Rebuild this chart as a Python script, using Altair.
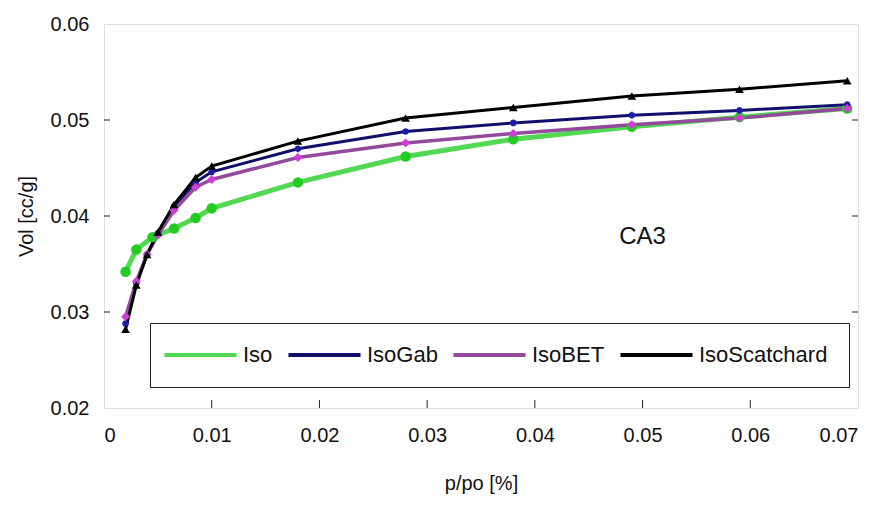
import altair as alt
import pandas as pd

# ---- data ----
x_fit = [0.002, 0.003, 0.004, 0.005, 0.0065, 0.0085, 0.010, 0.018, 0.028, 0.038, 0.049, 0.059, 0.069]
iso_gab = [0.0288, 0.0330, 0.0360, 0.0382, 0.0410, 0.0435, 0.0446, 0.0470, 0.0488, 0.0497, 0.0505, 0.0510, 0.0516]
iso_bet = [0.0295, 0.0332, 0.0360, 0.0380, 0.0406, 0.0430, 0.0438, 0.0461, 0.0476, 0.0486, 0.0495, 0.0502, 0.0512]
iso_scat = [0.0282, 0.0328, 0.0360, 0.0383, 0.0412, 0.0440, 0.0452, 0.0478, 0.0502, 0.0513, 0.0525, 0.0532, 0.0541]

x_iso = [0.002, 0.003, 0.0045, 0.0065, 0.0085, 0.010, 0.018, 0.028, 0.038, 0.049, 0.059, 0.069]
iso = [0.0342, 0.0365, 0.0378, 0.0387, 0.0398, 0.0408, 0.0435, 0.0462, 0.0480, 0.0493, 0.0503, 0.0512]

series = ["Iso", "IsoGab", "IsoBET", "IsoScatchard"]
colors = ["#52d852", "#10106a", "#944a9c", "#000000"]
marker_colors = ["#22cc22", "#1c1ca8", "#d23cd6", "#000000"]

x_ticks = [0, 0.01, 0.02, 0.03, 0.04, 0.05, 0.06, 0.07]
y_ticks = [0.02, 0.03, 0.04, 0.05, 0.06]
label_text = ["CA3"]
label_x = [0.05]
label_y = [0.0378]

FONT = "Liberation Sans, Arial, sans-serif"
ASTERISK = "M -1 0 L 1 0 M 0 -1 L 0 1 M -0.7 -0.7 L 0.7 0.7 M -0.7 0.7 L 0.7 -0.7"
LEGEND_LINE = "M -4.24 0 L 4.24 0"

rows = []
for xv, yv in zip(x_iso, iso):
    rows.append({"x": xv, "y": yv, "s": "Iso"})
for name, vals in [("IsoGab", iso_gab), ("IsoBET", iso_bet), ("IsoScatchard", iso_scat)]:
    for xv, yv in zip(x_fit, vals):
        rows.append({"x": xv, "y": yv, "s": name})
df = pd.DataFrame(rows)

xs = alt.Scale(domain=[0, 0.07], nice=False, zero=False)
ys = alt.Scale(domain=[0.02, 0.06], nice=False, zero=False)
cs = alt.Scale(domain=series, range=colors)

base = alt.Chart(df)

layers = []
widths = {"Iso": 5, "IsoGab": 3, "IsoBET": 3.5, "IsoScatchard": 3}
for i, name in enumerate(series):
    sub = base.transform_filter(alt.datum.s == name)
    ln = sub.mark_line(strokeWidth=widths[name]).encode(
        x=alt.X("x:Q", scale=xs,
                axis=alt.Axis(values=x_ticks, format="~g", title="p/po [%]", grid=False,
                              ticks=False, labelPadding=17, domain=False,
                              labelFont=FONT, labelFontSize=20, labelColor="#111",
                              titleFont=FONT, titleFontSize=20, titleFontWeight="normal",
                              titlePadding=28, titleColor="#111")),
        y=alt.Y("y:Q", scale=ys,
                axis=alt.Axis(values=y_ticks, format=".2f", title="Vol [cc/g]", grid=False,
                              ticks=False, labelPadding=15, domain=False,
                              labelFont=FONT, labelFontSize=20, labelColor="#111",
                              titleFont=FONT, titleFontSize=20, titleFontWeight="normal",
                              titlePadding=14, titleColor="#111")),
        color=alt.Color("s:N", scale=cs, sort=series,
                        legend=alt.Legend(title=None, orient="none", direction="horizontal",
                                          legendX=46, legendY=299,
                                          symbolType=LEGEND_LINE, symbolSize=289,
                                          symbolStrokeWidth=4, symbolOffset=18.5,
                                          labelFont=FONT, labelFontSize=22, labelColor="#111",
                                          columnPadding=7, padding=21, strokeColor="#222",
                                          fillColor="white", labelOffset=31.5, labelLimit=300)),
        order="x:Q",
    )
    layers.append(ln)

mk = {
    "Iso": dict(shape="circle", size=110, filled=True),
    "IsoGab": dict(shape=ASTERISK, size=45, filled=False, strokeWidth=2),
    "IsoBET": dict(shape="diamond", size=80, filled=True),
    "IsoScatchard": dict(shape="triangle-up", size=75, filled=True),
}
for i, name in enumerate(series):
    sub = base.transform_filter(alt.datum.s == name)
    pt = sub.mark_point(opacity=1, color=marker_colors[i], **mk[name]).encode(
        x=alt.X("x:Q", scale=xs), y=alt.Y("y:Q", scale=ys))
    layers.append(pt)

# inside ticks
tick_df = pd.DataFrame({"x": x_ticks[1:-1]})
bticks = alt.Chart(tick_df).mark_rule(color="#222", strokeWidth=1).encode(
    x=alt.X("x:Q", scale=xs), y=alt.value(384), y2=alt.value(376))
ytick_df = pd.DataFrame({"y": y_ticks[1:-1]})
lticks = alt.Chart(ytick_df).mark_rule(color="#222", strokeWidth=1).encode(
    y=alt.Y("y:Q", scale=ys), x=alt.value(0), x2=alt.value(6))
rticks = alt.Chart(ytick_df).mark_rule(color="#222", strokeWidth=1).encode(
    y=alt.Y("y:Q", scale=ys), x=alt.value(754), x2=alt.value(748))

txt = alt.Chart(pd.DataFrame({"x": label_x, "y": label_y, "t": label_text})).mark_text(
    font=FONT, fontSize=24, color="#111").encode(
    x=alt.X("x:Q", scale=xs), y=alt.Y("y:Q", scale=ys), text="t:N")

chart = alt.layer(*layers, bticks, lticks, rticks, txt).properties(
    width=754, height=384,
    autosize=alt.AutoSizeParams(type="none"),
    padding={"left": 96, "top": 16, "right": 16, "bottom": 90},
).configure_view(stroke="#111", strokeWidth=1.5).configure(background="white")

chart.save("out.html", embed_options={"renderer": "svg", "actions": False})
